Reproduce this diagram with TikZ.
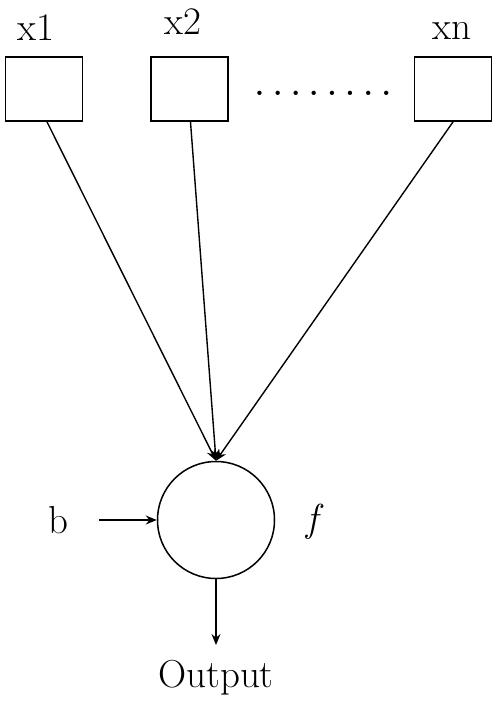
\documentclass[tikz,border=0pt]{standalone}
\usetikzlibrary{arrows.meta}
\begin{document}
\begin{tikzpicture}[x=1pt,y=-1pt,
  inbox/.style={draw,line width=1.8pt,minimum width=77pt,minimum height=64pt,inner sep=0pt},
  lbl/.style={inner sep=0pt,font=\fontsize{39}{44}\selectfont},
  conn/.style={line width=1.4pt,-{Stealth[length=11pt,width=9pt]}}]
\useasboundingbox (0,0) rectangle (500,706);
\node[inbox] (b1) at (44,89) {};
\node[inbox] (b2) at (189.5,89) {};
\node[inbox] (bn) at (453,89) {};
\node[lbl] (l1) at (36,28) {x1};
\node[lbl] (l2) at (183,22) {x2};
\node[lbl] (ln) at (452,31) {xn};
\node[lbl,font=\fontsize{30}{34}\selectfont\bfseries] (dots) at (323,93) {.\hspace{8.7pt}.\hspace{8.7pt}.\hspace{8.7pt}.\hspace{8.7pt}.\hspace{8.7pt}.\hspace{8.7pt}.\hspace{8.7pt}.};
\node[draw,circle,line width=1.5pt,minimum size=117pt,inner sep=0pt] (c) at (216,520) {};
\node[lbl] (b) at (58,520) {b};
\node[lbl] (f) at (315,522) {\textit{f}};
\node[lbl] (out) at (216,678) {Output};
\coordinate (bs) at (99,520);
\coordinate (oe) at (216,645);
\draw[conn] (b1.south) ++(3,0) -- (c.north);
\draw[conn] (b2.south) ++(1,0) -- (c.north);
\draw[conn] (bn.south) -- (c.north);
\draw[conn] (bs) -- (c.west);
\draw[conn] (c.south) -- (oe);
\end{tikzpicture}
\end{document}
